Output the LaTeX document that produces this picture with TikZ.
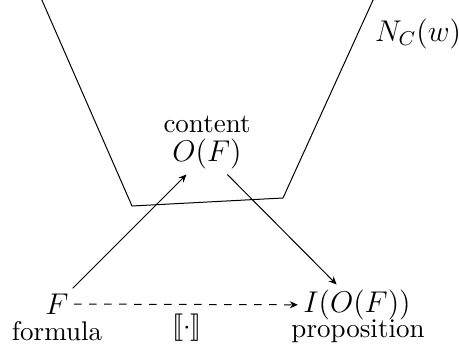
\documentclass[tikz,border=0pt]{standalone}
\usepackage{stmaryrd}
\usetikzlibrary{arrows.meta}
\begin{document}
\begin{tikzpicture}[x=0.4pt,y=-0.4pt,
  lbl/.style={inner sep=2pt,font=\fontsize{10.8}{13}\selectfont},
  mlbl/.style={inner sep=2pt,font=\fontsize{12}{14}\selectfont},
  conn/.style={-{Stealth[length=3.2pt,width=2.8pt]}}]
\useasboundingbox (0,0) rectangle (459,352);
\draw (41,-2) -- (132,206) -- (283,198) -- (374,-2);
\node[mlbl] (NC) at (418,34) {$N_C(w)$};
\node[lbl] (content) at (207,124) {content};
\node[mlbl] (O) at (207,154) {$O(F)$};
\node[mlbl] (F) at (57,304) {$F$};
\node[lbl] (formula) at (57,331) {formula};
\node[mlbl] (I) at (357,305) {$I(O(F))$};
\node[lbl] (prop) at (358,331) {proposition};
\node[lbl] (sem) at (187,328) {$\llbracket\cdot\rrbracket$};
\draw[conn] (F) -- (O);
\draw[conn] (O) -- (I);
\draw[conn,dashed] (F) -- (I);
\end{tikzpicture}
\end{document}
